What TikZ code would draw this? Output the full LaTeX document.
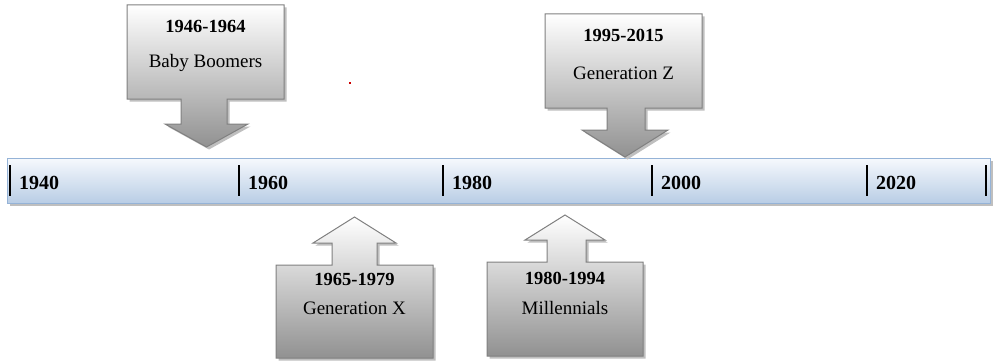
\documentclass[tikz,border=0pt]{standalone}
\usepackage{fontspec}
\setmainfont{Liberation Serif}
\definecolor{barTop}{RGB}{246,249,253}
\definecolor{barBot}{RGB}{185,205,229}
\definecolor{barEdge}{RGB}{149,179,215}
\definecolor{boxEdge}{RGB}{128,128,128}
\definecolor{boxBot}{RGB}{145,145,145}
\tikzset{
  genshape/.style={preaction={fill=black!25,transform canvas={shift={(2.5,2.5)}}},
    top color=white, bottom color=boxBot, draw=boxEdge, line width=1pt},
  yearlbl/.style={anchor=west, inner sep=0pt, font=\fontsize{20}{22}\selectfont\bfseries},
  rangelbl/.style={inner sep=0pt, font=\fontsize{18.5}{20}\selectfont\bfseries},
  namelbl/.style={inner sep=0pt, font=\fontsize{19}{20}\selectfont},
  tickmark/.style={line width=1.1pt, black}
}
\begin{document}
\begin{tikzpicture}[x=1pt,y=-1pt]
\useasboundingbox (0,0) rectangle (996,361);
% timeline bar
\path[preaction={fill=black!25,transform canvas={shift={(2.5,2.5)}}},
  top color=barTop, bottom color=barBot, draw=barEdge, line width=1pt]
  (7,158) rectangle (990,203);
\foreach \x in {10,239,443,652,867,986} \draw[tickmark] (\x,165) -- (\x,196);
\node[yearlbl] (y1940) at (19,183) {1940};
\node[yearlbl] (y1960) at (248,183) {1960};
\node[yearlbl] (y1980) at (452,183) {1980};
\node[yearlbl] (y2000) at (661,183) {2000};
\node[yearlbl] (y2020) at (876,183) {2020};
% Baby Boomers (down arrow)
\path[genshape] (127,5) -- (284,5) -- (284,99) -- (227,99) -- (227,124) -- (248,124)
  -- (206.5,147) -- (165,124) -- (181,124) -- (181,99) -- (127,99) -- cycle;
\node[rangelbl] (bbr) at (205.5,26) {1946-1964};
\node[namelbl] (bbn) at (205.5,63) {Baby Boomers};
% Generation Z (down arrow)
\path[genshape] (545,14) -- (702,14) -- (702,108) -- (645,108) -- (645,130) -- (668,130)
  -- (625,157) -- (582,130) -- (607,130) -- (607,108) -- (545,108) -- cycle;
\node[rangelbl] (gzr) at (623.5,35) {1995-2015};
\node[namelbl] (gzn) at (623.5,73) {Generation Z};
% Generation X (up arrow)
\path[genshape] (354.5,217) -- (396,243) -- (377,243) -- (377,265) -- (433,265) -- (433,358)
  -- (276,358) -- (276,265) -- (332,265) -- (332,243) -- (313,243) -- cycle;
\node[rangelbl] (gxr) at (354.5,279) {1965-1979};
\node[namelbl] (gxn) at (354.5,308) {Generation X};
% Millennials (up arrow)
\path[genshape] (565,215) -- (605,240) -- (586,240) -- (586,262) -- (643,262) -- (643,356)
  -- (487,356) -- (487,262) -- (547,262) -- (547,240) -- (525,240) -- cycle;
\node[rangelbl] (mlr) at (565,278) {1980-1994};
\node[namelbl] (mln) at (565,308) {Millennials};
% stray red dot
\fill[red!80!black] (349,82) rectangle (351,84);
\end{tikzpicture}
\end{document}
